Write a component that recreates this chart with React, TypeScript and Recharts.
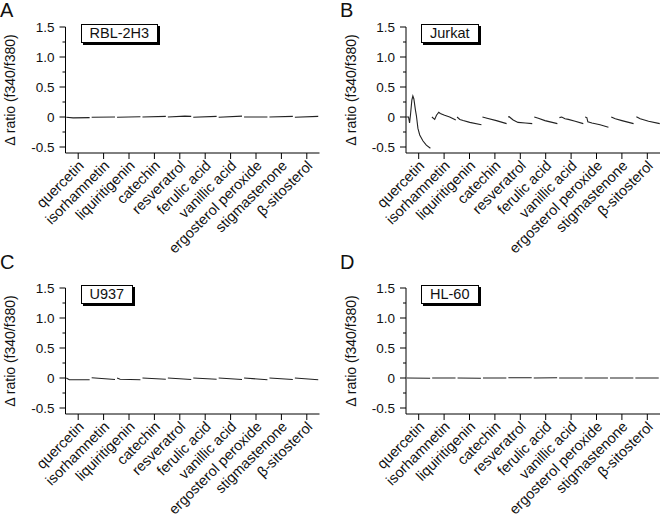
import React from "react";
import { LineChart, Line, XAxis, YAxis } from "recharts";

const compounds = [
  "quercetin",
  "isorhamnetin",
  "liquiritigenin",
  "catechin",
  "resveratrol",
  "ferulic acid",
  "vanillic acid",
  "ergosterol peroxide",
  "stigmastenone",
  "β-sitosterol",
];

const yTicks = [-0.5, -0.25, 0, 0.25, 0.5, 0.75, 1, 1.25, 1.5];
const yTickLabels = ["-0.5", "", "0", "", "0.5", "", "1.0", "", "1.5"];

type Trace = [number, number][];

// one trace per compound: [time inside the compound's slot (0-1), Δ ratio]
const rblTraces: Trace[] = [
  [[0.03, -0.005], [0.3, -0.015], [0.95, -0.01]],
  [[0.03, -0.005], [0.95, 0]],
  [[0.03, -0.005], [0.95, 0.005]],
  [[0.03, 0], [0.95, 0.01]],
  [[0.03, 0], [0.7, 0.015], [0.95, 0.01]],
  [[0.03, -0.005], [0.95, 0.01]],
  [[0.03, -0.005], [0.95, 0.015]],
  [[0.03, 0], [0.95, 0]],
  [[0.03, 0], [0.95, 0.01]],
  [[0.03, -0.005], [0.95, 0.01]],
];

const jurkatTraces: Trace[] = [
  [
    [0.01, 0], [0.1, 0], [0.14, -0.1], [0.18, 0.05], [0.23, 0.28], [0.27, 0.35],
    [0.31, 0.3], [0.37, 0.12], [0.41, 0.02], [0.47, -0.19], [0.54, -0.3],
    [0.67, -0.4], [0.8, -0.47], [0.96, -0.52],
  ],
  [[0.02, 0], [0.13, -0.04], [0.2, 0.03], [0.29, 0.08], [0.35, 0.06], [0.52, 0.03], [0.72, 0], [0.96, -0.05]],
  [[0.01, 0], [0.12, -0.04], [0.25, -0.06], [0.51, -0.09], [0.97, -0.13]],
  [[0.01, 0], [0.19, -0.02], [0.56, -0.06], [0.96, -0.11]],
  [[0.02, 0], [0.06, 0.005], [0.22, -0.05], [0.41, -0.09], [0.7, -0.1], [0.97, -0.11]],
  [[0.05, 0], [0.21, -0.02], [0.47, -0.06], [0.96, -0.11]],
  [[0.04, -0.01], [0.13, 0], [0.26, -0.03], [0.39, -0.04], [0.66, -0.07], [0.98, -0.11]],
  [[0.05, 0], [0.12, -0.01], [0.16, -0.08], [0.32, -0.1], [0.64, -0.13], [0.97, -0.17]],
  [[0.08, 0], [0.24, -0.03], [0.5, -0.06], [0.96, -0.11]],
  [[0.07, 0.005], [0.22, -0.03], [0.55, -0.07], [0.99, -0.11]],
];

const u937Traces: Trace[] = [
  [[0.03, 0], [0.15, -0.03], [0.95, -0.03]],
  [[0.03, 0.005], [0.95, -0.025]],
  [[0.03, 0], [0.15, -0.02], [0.95, -0.03]],
  [[0.03, 0], [0.95, -0.02]],
  [[0.03, 0], [0.95, -0.025]],
  [[0.03, 0], [0.95, -0.02]],
  [[0.03, 0], [0.95, -0.025]],
  [[0.03, 0], [0.95, -0.03]],
  [[0.03, 0], [0.95, -0.025]],
  [[0.03, 0], [0.95, -0.03]],
];

const hl60Traces: Trace[] = [
  [[0.03, 0], [0.95, -0.005]],
  [[0.03, 0], [0.95, 0]],
  [[0.03, 0], [0.95, -0.005]],
  [[0.03, 0], [0.95, 0]],
  [[0.03, 0.005], [0.95, 0.005]],
  [[0.03, 0], [0.95, 0.005]],
  [[0.03, 0], [0.95, 0]],
  [[0.03, 0], [0.95, 0]],
  [[0.03, 0], [0.95, 0]],
  [[0.03, 0], [0.95, 0]],
];

const panels = [
  { letter: "A", cell: "RBL-2H3", traces: rblTraces, left: 0, top: 0, marginLeft: 20.5, marginRight: 10.5 },
  { letter: "B", cell: "Jurkat", traces: jurkatTraces, left: 330, top: 0, marginLeft: 31, marginRight: 0 },
  { letter: "C", cell: "U937", traces: u937Traces, left: 0, top: 261, marginLeft: 20.5, marginRight: 10.5 },
  { letter: "D", cell: "HL-60", traces: hl60Traces, left: 330, top: 261, marginLeft: 31, marginRight: 0 },
];

const FONT = '"Liberation Sans", Arial, Helvetica, sans-serif';
const W = 330;
const H = 264;
const PLOT_TOP = 27;
const PLOT_H = 126;
const Y_AXIS_W = 45;
const X_AXIS_H = H - PLOT_TOP - PLOT_H;

function toRows(traces: Trace[]) {
  const rows: { x: number; y: number | null }[] = [];
  traces.forEach((tr, i) => {
    if (i > 0) rows.push({ x: i, y: null });
    tr.forEach(([t, v]) => rows.push({ x: i + t, y: v }));
  });
  return rows;
}

function Panel({ p }: { p: (typeof panels)[number] }) {
  const axisX = p.marginLeft + Y_AXIS_W;
  const axisY = PLOT_TOP + PLOT_H;

  const yTick = (props: any) => {
    const { y, index } = props;
    const label = yTickLabels[index];
    const len = label ? 6 : 3;
    return (
      <g>
        <line x1={axisX - len} x2={axisX} y1={y} y2={y} stroke="#000" />
        {label && (
          <text x={axisX - 11} y={y} dy="0.35em" textAnchor="end" fontSize={13.5} fill="#111" fontFamily={FONT}>
            {label}
          </text>
        )}
      </g>
    );
  };

  const xTick = (props: any) => {
    const { x, index } = props;
    return (
      <g>
        <line x1={x} x2={x} y1={axisY} y2={axisY + 6} stroke="#000" />
        <text
          transform={`translate(${x + 3},${axisY + 10}) rotate(-45)`}
          textAnchor="end"
          dy="0.35em"
          fontSize={14.5}
          fill="#111"
          fontFamily={FONT}
        >
          {compounds[index]}
        </text>
      </g>
    );
  };

  const yLabel = () => (
    <text
      transform={`translate(${axisX - 55},${PLOT_TOP + PLOT_H / 2}) rotate(-90)`}
      textAnchor="middle"
      dy="0.35em"
      fontSize={14}
      fill="#111"
      fontFamily={FONT}
    >
      Δ ratio (f340/f380)
    </text>
  );

  return (
    <div style={{ position: "absolute", left: p.left, top: p.top, width: W, height: H }}>
      <LineChart
        width={W}
        height={H}
        data={toRows(p.traces)}
        margin={{ top: PLOT_TOP, right: p.marginRight, bottom: 0, left: p.marginLeft }}
      >
        <XAxis
          type="number"
          dataKey="x"
          domain={[0, 10]}
          ticks={compounds.map((_, i) => i + 0.5)}
          allowDataOverflow
          height={X_AXIS_H}
          axisLine={{ stroke: "#000" }}
          tickLine={false}
          tick={xTick}
          interval={0}
        />
        <YAxis
          type="number"
          domain={[-0.6, 1.5]}
          ticks={yTicks}
          allowDataOverflow
          width={Y_AXIS_W}
          axisLine={{ stroke: "#000" }}
          tickLine={false}
          tick={yTick}
          interval={0}
          label={{ content: yLabel }}
        />
        <Line
          type="linear"
          dataKey="y"
          stroke="#222"
          strokeWidth={1.1}
          dot={false}
          activeDot={false}
          connectNulls={false}
          isAnimationActive={false}
        />
      </LineChart>
      <div
        style={{
          position: "absolute",
          left: axisX + 15,
          top: 24,
          border: "1px solid #000",
          boxShadow: "2px 2px 0 #000",
          padding: "0 8px",
          background: "#fff",
          fontFamily: FONT,
          fontSize: 14.5,
          lineHeight: "17px",
          color: "#111",
        }}
      >
        {p.cell}
      </div>
    </div>
  );
}

export default function App() {
  return (
    <div
      style={{
        position: "absolute",
        left: 0,
        top: 0,
        width: 660,
        height: 515,
        background: "#fff",
        overflow: "hidden",
        fontFamily: FONT,
      }}
    >
      {panels.map((p) => (
        <Panel key={p.letter} p={p} />
      ))}
      {panels.map((p) => (
        <div
          key={"l" + p.letter}
          style={{
            position: "absolute",
            left: p.left === 0 ? 0 : p.left + 10,
            top: p.top === 0 ? 0 : 252,
            fontSize: 20,
            lineHeight: "20px",
            color: "#111",
          }}
        >
          {p.letter}
        </div>
      ))}
    </div>
  );
}
